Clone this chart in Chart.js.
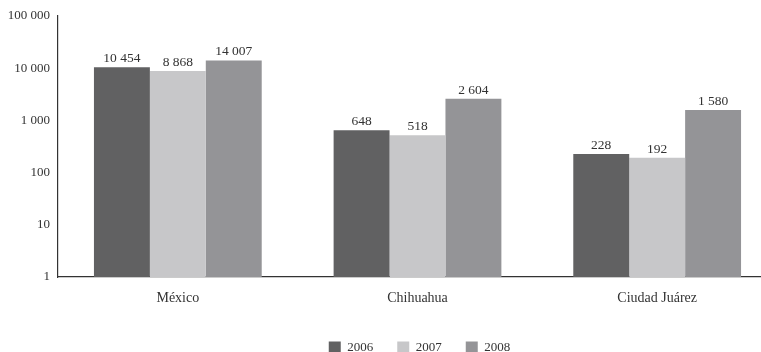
<!DOCTYPE html>
<html>
<head>
<meta charset="utf-8">
<script src="https://cdn.jsdelivr.net/npm/chart.js@4/dist/chart.umd.min.js"></script>
<style>
  html, body { margin: 0; padding: 0; background: #fff; overflow: hidden; }
  #wrap { width: 761px; height: 352px; overflow: hidden; }
</style>
</head>
<body>
<div id="wrap"><canvas id="delitos" width="780" height="352"></canvas></div>
<script>
const places = ["México", "Chihuahua", "Ciudad Juárez"];
const years = ["2006", "2007", "2008"];
const values2006 = [10454, 648, 228];
const values2007 = [8868, 518, 192];
const values2008 = [14007, 2604, 1580];
const yTicks = [1, 10, 100, 1000, 10000, 100000];

const barColors = ["#616162", "#c7c7c9", "#949497"];
const FONT = "'Liberation Serif', 'DejaVu Serif', serif";
const INK = "#333333";

function withSpaces(n){
    return String(n).replace(/\B(?=(\d{3})+(?!\d))/g, " ");
}

// writes the value over each bar
const valueLabels = {
    id: "valueLabels",
    afterDatasetsDraw(chart){
        const ctx = chart.ctx;
        ctx.save();
        ctx.font = "13.5px " + FONT;
        ctx.fillStyle = INK;
        ctx.textAlign = "center";
        ctx.textBaseline = "bottom";
        chart.data.datasets.forEach((ds, i) => {
            chart.getDatasetMeta(i).data.forEach((bar, j) => {
                ctx.fillText(withSpaces(ds.data[j]), bar.x, bar.y - 2);
            });
        });
        ctx.restore();
    }
};

// legend sits a bit right of the canvas centre
const legendShift = {
    id: "legendShift",
    afterLayout(chart){
        if(chart.legend){
            chart.legend.left += 31;
            chart.legend.right += 31;
        }
    }
};

const series = [values2006, values2007, values2008];

new Chart(document.getElementById("delitos"), {
    type: "bar",
    data: {
        labels: places,
        datasets: years.map((y, i) => ({
            label: y,
            data: series[i],
            backgroundColor: barColors[i],
            borderWidth: 0,
            categoryPercentage: 0.7,
            barPercentage: 1.0
        }))
    },
    options: {
        responsive: false,
        animation: false,
        layout: { padding: { top: 16, right: 3, left: 0, bottom: -12 } },
        plugins: {
            legend: {
                position: "bottom",
                labels: {
                    font: { family: FONT, size: 13 },
                    color: INK,
                    boxWidth: 12,
                    boxHeight: 12,
                    padding: 24
                }
            },
            tooltip: { enabled: false }
        },
        scales: {
            x: {
                grid: { display: false },
                border: { color: INK, width: 1.2 },
                afterFit(scale){ scale.height = 40; },
                ticks: { font: { family: FONT, size: 14 }, color: INK, padding: 5 }
            },
            y: {
                type: "logarithmic",
                min: 1,
                max: 100000,
                grid: { display: false, drawTicks: false },
                border: { color: INK, width: 1.2 },
                afterBuildTicks(scale){
                    scale.ticks = yTicks.map(v => ({ value: v }));
                },
                afterFit(scale){ scale.width = 58; },
                ticks: {
                    font: { family: FONT, size: 13 },
                    color: INK,
                    padding: 8,
                    callback: v => withSpaces(v)
                }
            }
        }
    },
    plugins: [valueLabels, legendShift]
});
</script>
</body>
</html>
